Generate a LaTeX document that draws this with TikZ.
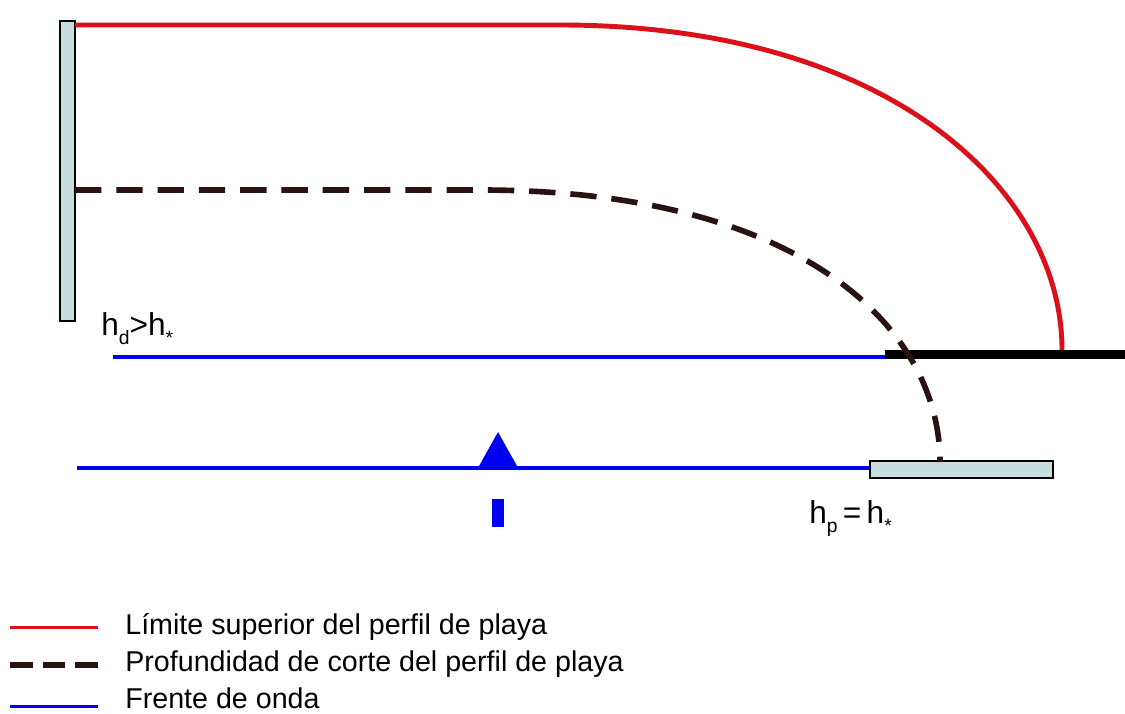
\documentclass[tikz,border=0pt]{standalone}
\usepackage{fontspec}
\setmainfont{Liberation Sans}
\usetikzlibrary{positioning, arrows.meta}
\definecolor{wallfill}{HTML}{C6DEDD}
\definecolor{limred}{HTML}{DC101A}
\definecolor{cutblack}{HTML}{2A1212}
\definecolor{waveblue}{HTML}{0000F0}
\newcommand{\lowsub}[1]{\raisebox{-0.55ex}{\fontsize{11}{12}\selectfont #1}}

\begin{document}
\begin{tikzpicture}[
  x=0.02cm, y=-0.02cm,
  every node/.style={font=\fontsize{16.3}{19}\selectfont, inner sep=0pt, anchor=base west},
  wall/.style={draw=black, line width=1.1pt, fill=wallfill},
  upper/.style={draw=limred, line width=2.8pt},
  cut/.style={draw=cutblack, line width=3.2pt, dash pattern=on 15pt off 8.5pt},
  wave/.style={draw=waveblue, line width=2.1pt},
  hlabel/.style={font=\fontsize{18}{21}\selectfont},
  keyline/.style={line width=1.7pt},
]
  \useasboundingbox (0,0) rectangle (1125,713);

  % seawall, beach step and berm
  \draw[wall] (60,21) rectangle (75,321);
  \draw[wall] (870,461) rectangle (1053,478);
  \fill[black] (885,350) rectangle (1125,359);

  % wave fronts and wave direction
  \draw[wave] (113,357) -- (885,357);
  \draw[wave] (77,468) -- (870,468);
  \fill[waveblue] (498,432) -- (517,466) -- (479,466) -- cycle;
  \fill[waveblue] (492,499) rectangle (504,527);

  % profiles
  \draw[upper] (75,25) -- (560,25) .. controls (890,25) and (1062,190) .. (1062,350);
  \draw[cut] (75,190) -- (480,190) .. controls (805,190) and (940,330) .. (940,462);

  % depths
  \node[hlabel] (hd) at (101,335) {h\lowsub{d}>h\lowsub{*}};
  \node[hlabel] (hp) at (809,523) {h\lowsub{p}\,=\,h\lowsub{*}};

  % legend
  \coordinate (k1a) at (10,627);  \coordinate (k1b) at (98,627);
  \coordinate (k2a) at (10,665);  \coordinate (k2b) at (98,665);
  \coordinate (k3a) at (10,706);  \coordinate (k3b) at (98,706);
  \draw[keyline, limred] (k1a) -- (k1b);
  \draw[keyline, cutblack, line width=3.2pt, dash pattern=on 13pt off 5.5pt] (k2a) -- (k2b);
  \draw[keyline, waveblue] (k3a) -- (k3b);
  \node (t1) at (125,634) {Límite superior del perfil de playa};
  \node (t2) at (125,671) {Profundidad de corte del perfil de playa};
  \node (t3) at (125,708) {Frente de onda};
\end{tikzpicture}
\end{document}
